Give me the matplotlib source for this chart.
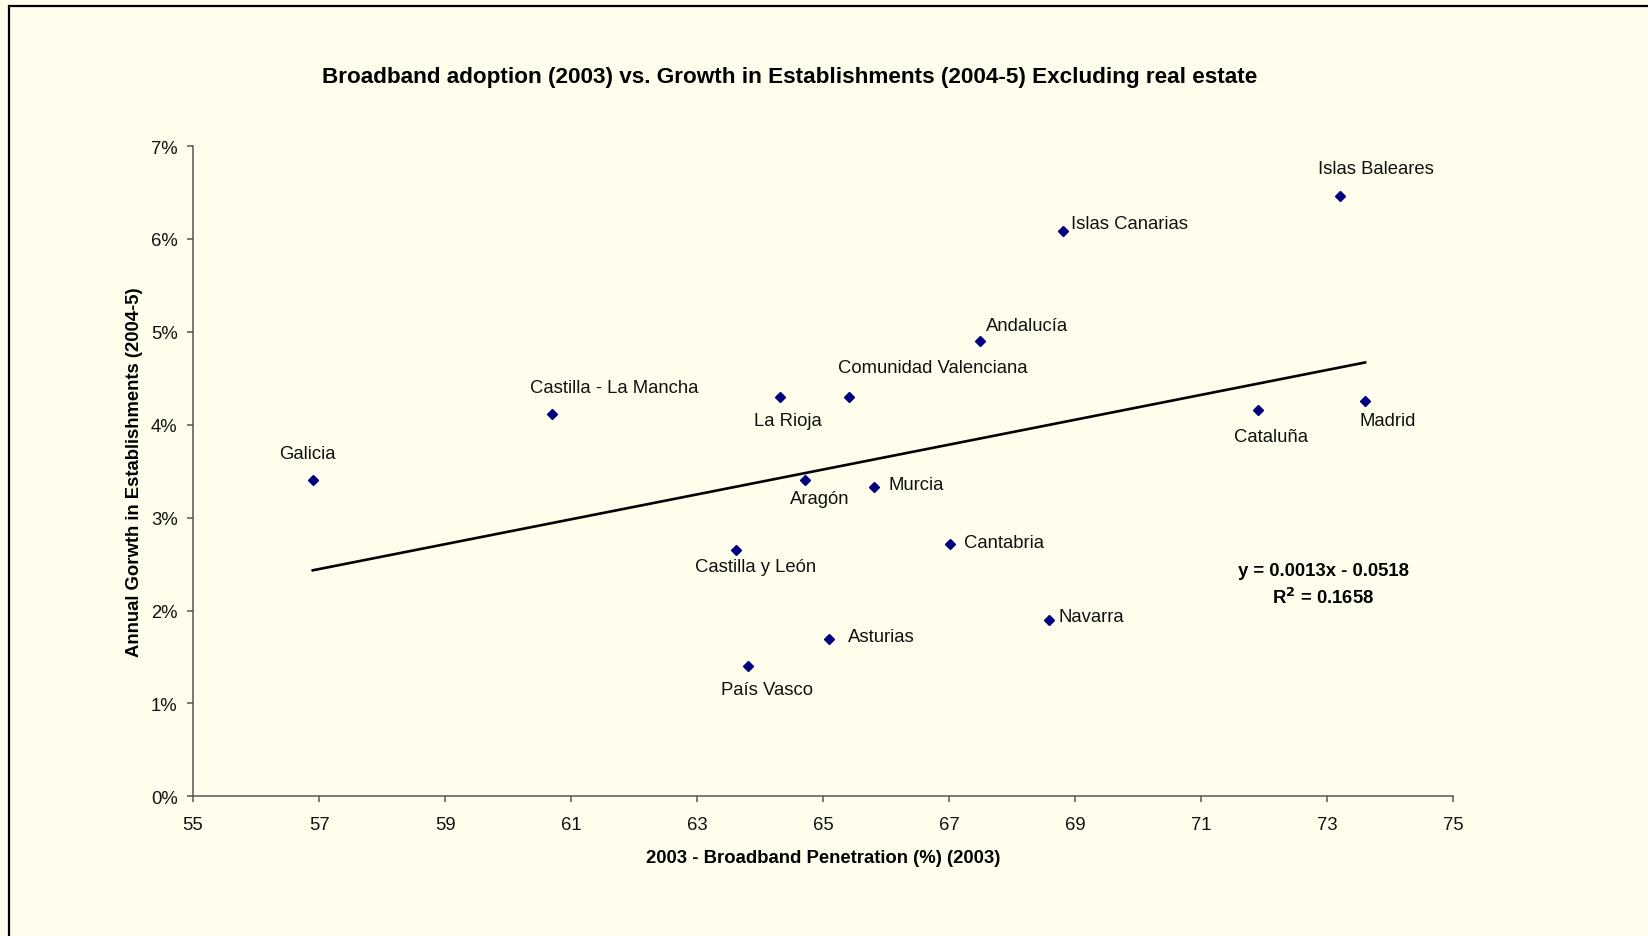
import numpy as np
import matplotlib
matplotlib.use("Agg")
import matplotlib.pyplot as plt
from matplotlib.patches import Rectangle
from matplotlib.ticker import FuncFormatter

plt.rcParams['font.family'] = ['Liberation Sans', 'DejaVu Sans']

regions = ["Galicia", "Castilla - La Mancha", "La Rioja", "Comunidad Valenciana",
           "Andalucía", "Islas Canarias", "Islas Baleares", "Cataluña", "Madrid",
           "Aragón", "Murcia", "Cantabria", "Castilla y León", "Navarra",
           "Asturias", "País Vasco"]
broadband = [56.90, 60.70, 64.31, 65.41, 67.49, 68.81, 73.20, 71.90, 73.60,
             64.71, 65.81, 67.01, 63.61, 68.59, 65.09, 63.81]
growth = [0.0341, 0.0412, 0.0430, 0.0430, 0.0490, 0.0608, 0.0646, 0.0416, 0.0426,
          0.0341, 0.0333, 0.0272, 0.0265, 0.0190, 0.0169, 0.0140]
x_ticks = [55, 57, 59, 61, 63, 65, 67, 69, 71, 73, 75]
y_ticks = [0, 0.01, 0.02, 0.03, 0.04, 0.05, 0.06, 0.07]

# label placement: offset (pixels) of the label's left edge / vertical centre
label_offsets = [(-34, 26), (-22, 26), (-26, -24), (-11, 29), (6, 16), (8, 8),
                 (-22, 28), (-24, -27), (-6, -20), (-15, -19), (14, 2), (14, 1),
                 (-41, -16), (9, 3), (19, 3), (-27, -23)]

bg = "#FFFEEC"
W, H = 1648, 937
fig = plt.figure(figsize=(W / 100, H / 100), dpi=100, facecolor=bg)

# outer chart frame (runs off the right and bottom edges)
fig.patches.append(Rectangle((9 / W, -0.05), 1.2, 1 - 7 / H + 0.05,
                             transform=fig.transFigure, fill=False,
                             edgecolor="black", linewidth=1.6))

ax = fig.add_axes([193 / W, 1 - 797.3 / H, (1453.3 - 193) / W, (797.3 - 147) / H])
ax.set_facecolor(bg)

x = np.array(broadband)
y = np.array(growth)
slope, intercept = np.polyfit(x, y, 1)
xs = np.array([x.min(), x.max()])
ax.plot(xs, slope * xs + intercept, color="black", linewidth=1.9, zorder=2)

ax.plot(x, y, linestyle="none", marker="D", markersize=5.4,
        color="#000080", zorder=3)

for name, xi, yi, (dx, dy) in zip(regions, broadband, growth, label_offsets):
    ax.annotate(name, (xi, yi), xytext=(dx, dy), textcoords="offset pixels",
                ha="left", va="center", fontsize=13.3, color="#111111")

ax.text(1323 / W, 1 - 571 / H, "y = 0.0013x - 0.0518", transform=fig.transFigure,
        ha="center", va="center", fontsize=13.3, fontweight="bold")
ax.text(1323 / W, 1 - 598 / H, r"R$^\mathbf{2}$ = 0.1658", transform=fig.transFigure,
        ha="center", va="center", fontsize=13.3, fontweight="bold")

ax.set_xlim(55, 75)
ax.set_ylim(0, 0.07)
ax.set_xticks(x_ticks)
ax.set_yticks(y_ticks)
ax.yaxis.set_major_formatter(FuncFormatter(lambda v, p: f"{v * 100:.0f}%"))

for side in ("top", "right"):
    ax.spines[side].set_visible(False)
for side in ("left", "bottom"):
    ax.spines[side].set_color("#555555")
    ax.spines[side].set_linewidth(1.1)
ax.tick_params(axis="both", direction="out", length=4, width=1.1,
               color="#555555", labelsize=13.3, labelcolor="#111111")
ax.tick_params(axis="x", pad=10)
ax.tick_params(axis="y", pad=7)

ax.set_xlabel("2003 - Broadband Penetration (%) (2003)", fontsize=13.3,
              fontweight="bold", labelpad=12)
ax.set_ylabel("Annual Gorwth in Establishments (2004-5)", fontsize=13.3,
              fontweight="bold", labelpad=6)

fig.text(790 / W, 1 - 78 / H,
         "Broadband adoption (2003) vs. Growth in Establishments (2004-5) Excluding real estate",
         ha="center", va="center", fontsize=16.2, fontweight="bold")

fig.savefig("out.png", dpi=100, facecolor=bg)
